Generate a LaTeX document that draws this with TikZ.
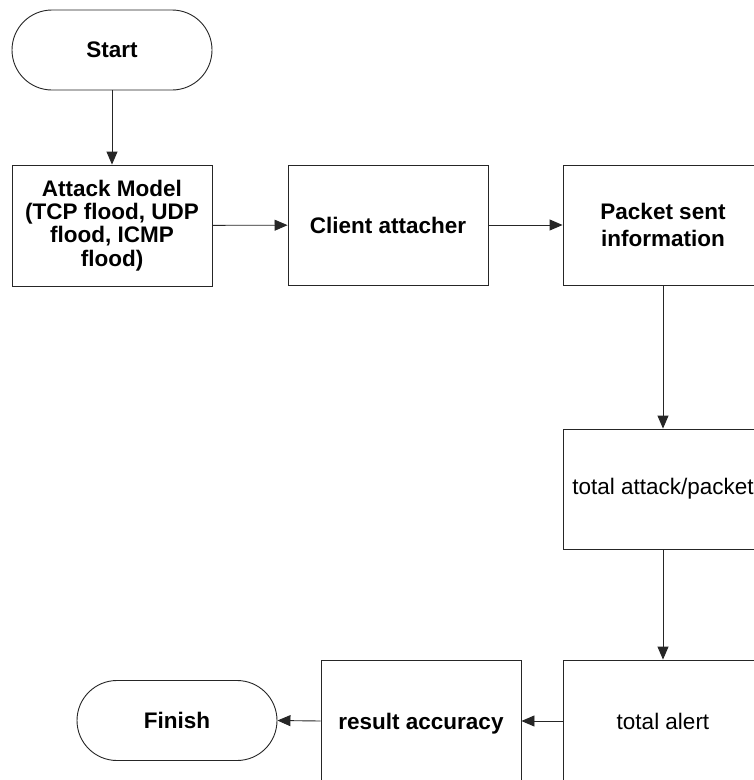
\documentclass[tikz,border=0pt]{standalone}
\usepackage{fontspec}
\setmainfont{Liberation Sans}
\usetikzlibrary{arrows.meta}
\begin{document}
\begin{tikzpicture}[x=1pt,y=-1pt,
  box/.style={draw=black!85,line width=0.9pt,minimum width=200pt,minimum height=120pt,
    inner sep=0pt,align=center,font=\fontsize{22.5}{23.3}\selectfont},
  boldbox/.style={box,font=\fontsize{22.5}{23.3}\selectfont\bfseries},
  terminal/.style={boldbox,minimum height=80pt,rounded corners=40pt},
  flow/.style={draw=black!85,line width=0.9pt,-{Triangle[length=13pt,width=11pt]}}]
\useasboundingbox (0,0) rectangle (754,780);
\fill[white] (0,0) rectangle (754,780);

\node[terminal] (start) at (112,50) {Start};
\node[boldbox,minimum height=121pt] (attack) at (112,225.5)
  {Attack Model\\(TCP flood, UDP\\flood, ICMP\\flood)};
\node[boldbox] (client) at (388,225) {Client attacher};
\node[boldbox,font=\fontsize{22.5}{26.5}\selectfont\bfseries] (packet) at (663,225)
  {Packet sent\\information};
\node[box] (total) at (663,489) {total attack/packet};
\node[box,minimum height=122pt] (alert) at (663,721) {total alert};
\node[boldbox,minimum height=122pt,text depth=0pt] (result) at (421,721) {result accuracy};
\node[terminal] (finish) at (177,720.5) {Finish};

\draw[flow] (start) -- (attack);
\draw[flow] (attack) -- (client);
\draw[flow] (client) -- (packet);
\draw[flow] (packet) -- (total);
\draw[flow] (total) -- (alert);
\draw[flow] (alert.west) -- (result.east);
\draw[flow] (result.west) -- (finish.east);
\end{tikzpicture}
\end{document}
